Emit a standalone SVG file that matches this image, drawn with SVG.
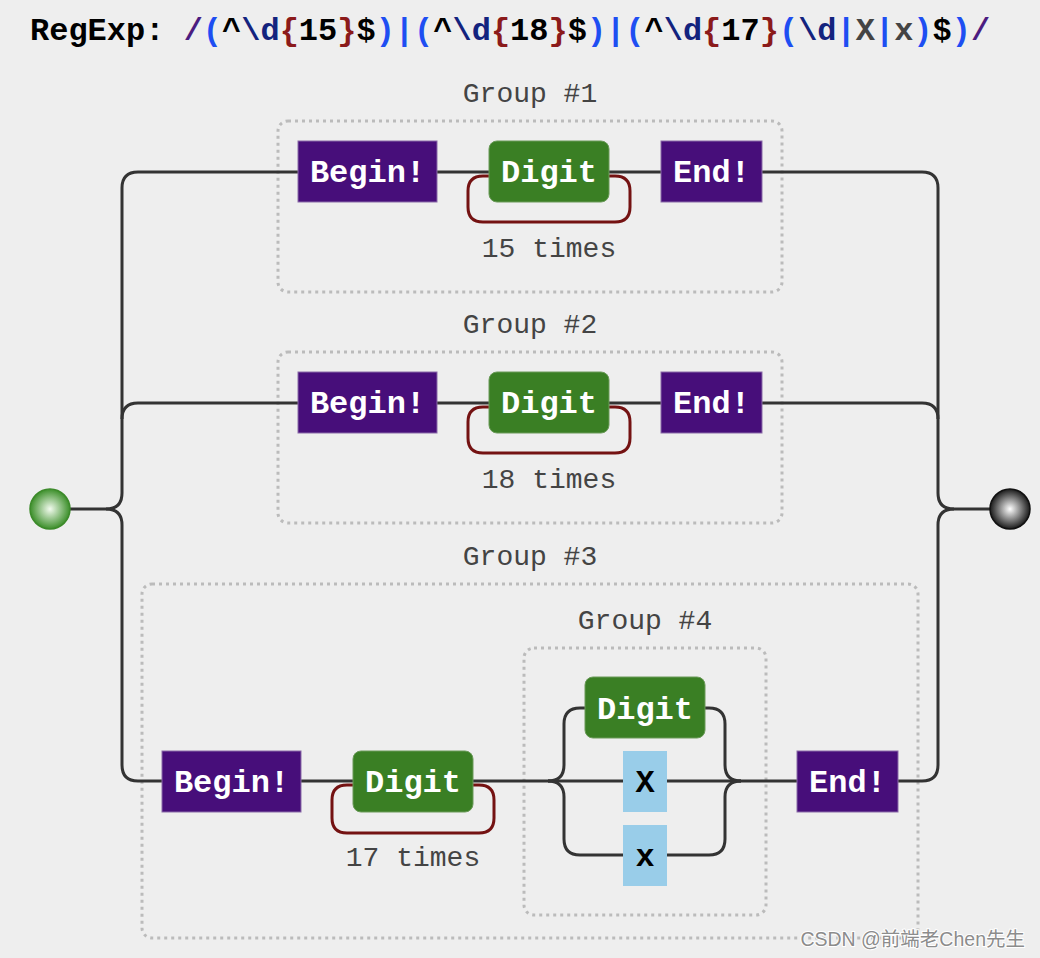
<svg xmlns="http://www.w3.org/2000/svg" width="1040" height="958" viewBox="0 0 1040 958">
<style>
.mono{font-family:"Liberation Mono","DejaVu Sans Mono",monospace}
.title{font-size:32px;font-weight:bold}
.lbl{font-size:28px;fill:#444;text-anchor:middle}
.ntext{font-size:32px;font-weight:bold;fill:#fff;text-anchor:middle}
.ltext{font-size:32px;font-weight:bold;fill:#000;text-anchor:middle}
.anchor{fill:#470e7a;stroke:#8a6aa8;stroke-width:1}
.esc{fill:#3a7f24;stroke:#6a9a58;stroke-width:1}
.lit{fill:#99cde9}
.grp{fill:none;stroke:#bbb;stroke-width:3;stroke-dasharray:3 4}
.conn path{fill:none;stroke:#333;stroke-width:3}
.conn path.loop{stroke:#741212}
.op{fill:#1e4ef2}.sl{fill:#4b1c80}.cl{fill:#13237e}.br{fill:#8b1a1a}.ch{fill:#444}
</style>
<defs>
<radialGradient id="gStart" cx="0.5" cy="0.5" r="0.5">
<stop offset="0" stop-color="#f2fbee"/>
<stop offset="1" stop-color="#3c8f2a"/>
</radialGradient>
<radialGradient id="gEnd" cx="0.5" cy="0.5" r="0.5">
<stop offset="0" stop-color="#ffffff"/>
<stop offset="1" stop-color="#1a1a1a"/>
</radialGradient>
</defs>
<rect width="1040" height="958" fill="#eeeeee"/>
<text class="mono title" x="30" y="40" xml:space="preserve"><tspan fill="#000">RegExp: </tspan><tspan class="sl">/</tspan><tspan class="op">(</tspan><tspan fill="#000">^</tspan><tspan class="cl">\d</tspan><tspan class="br">{</tspan><tspan fill="#000">15</tspan><tspan class="br">}</tspan><tspan fill="#000">$</tspan><tspan class="op">)|(</tspan><tspan fill="#000">^</tspan><tspan class="cl">\d</tspan><tspan class="br">{</tspan><tspan fill="#000">18</tspan><tspan class="br">}</tspan><tspan fill="#000">$</tspan><tspan class="op">)|(</tspan><tspan fill="#000">^</tspan><tspan class="cl">\d</tspan><tspan class="br">{</tspan><tspan fill="#000">17</tspan><tspan class="br">}</tspan><tspan class="op">(</tspan><tspan class="cl">\d</tspan><tspan class="op">|</tspan><tspan class="ch">X</tspan><tspan class="op">|</tspan><tspan class="ch">x</tspan><tspan class="op">)</tspan><tspan fill="#000">$</tspan><tspan class="op">)</tspan><tspan class="sl">/</tspan></text>

<g id="group1">
<rect class="grp" x="278" y="121" width="504" height="171" rx="10"/>
<text class="mono lbl" x="530" y="102">Group #1</text>
</g>
<g id="group2">
<rect class="grp" x="278" y="352" width="504" height="171" rx="10"/>
<text class="mono lbl" x="530" y="333">Group #2</text>
</g>
<g id="group3">
<rect class="grp" x="142" y="584" width="776" height="354" rx="10"/>
<text class="mono lbl" x="530" y="565">Group #3</text>
</g>
<g id="group4">
<rect class="grp" x="524" y="648" width="242" height="267" rx="10"/>
<text class="mono lbl" x="645" y="629">Group #4</text>
</g>

<g id="connectors" class="conn">
<path d="M70,509 H106"/>
<path d="M106,509 q16,0 16,-16 V188 q0,-16 16,-16 H298"/>
<path d="M122,419 q0,-16 16,-16 H298"/>
<path d="M106,509 q16,0 16,16 V765 q0,16 16,16 H162"/>
<path d="M437,172 H489 M609,172 H661"/>
<path d="M437,403 H489 M609,403 H661"/>
<path d="M762,172 H922 q16,0 16,16 V493 q0,16 16,16 H990"/>
<path d="M762,403 H922 q16,0 16,16"/>
<path d="M898,781 H922 q16,0 16,-16 V525 q0,-16 16,-16"/>
<path d="M301,781 H353 M473,781 H623 M667,781 H797"/>
<path d="M548,781 q16,0 16,-16 V724 q0,-16 16,-16 H585"/>
<path d="M548,781 q16,0 16,16 V839 q0,16 16,16 H623"/>
<path d="M705,708 H709 q16,0 16,16 V765 q0,16 16,16"/>
<path d="M667,855 H709 q16,0 16,-16 V797 q0,-16 16,-16"/>
<path class="loop" d="M609,176 H615 q15,0 15,15 V207 q0,15 -15,15 H483 q-15,0 -15,-15 V191 q0,-15 15,-15 H489"/>
<path class="loop" d="M609,407 H615 q15,0 15,15 V438 q0,15 -15,15 H483 q-15,0 -15,-15 V422 q0,-15 15,-15 H489"/>
<path class="loop" d="M473,785 H479 q15,0 15,15 V818 q0,15 -15,15 H347 q-15,0 -15,-15 V800 q0,-15 15,-15 H353"/>
</g>

<g id="start"><circle cx="50" cy="509" r="20" fill="url(#gStart)" stroke="#3c8a2a" stroke-width="1.5"/></g>
<g id="end"><circle cx="1010" cy="509" r="20" fill="url(#gEnd)" stroke="#111" stroke-width="1.5"/></g>

<g id="g1-begin"><rect class="anchor" x="298" y="141" width="139" height="61"/><text class="mono ntext" x="367.5" y="182">Begin!</text></g>
<g id="g1-digit"><rect class="esc" x="489" y="141" width="120" height="61" rx="8"/><text class="mono ntext" x="549" y="182">Digit</text></g>
<text class="mono lbl" x="549" y="257">15 times</text>
<g id="g1-end"><rect class="anchor" x="661" y="141" width="101" height="61"/><text class="mono ntext" x="711.5" y="182">End!</text></g>

<g id="g2-begin"><rect class="anchor" x="298" y="372" width="139" height="61"/><text class="mono ntext" x="367.5" y="413">Begin!</text></g>
<g id="g2-digit"><rect class="esc" x="489" y="372" width="120" height="61" rx="8"/><text class="mono ntext" x="549" y="413">Digit</text></g>
<text class="mono lbl" x="549" y="488">18 times</text>
<g id="g2-end"><rect class="anchor" x="661" y="372" width="101" height="61"/><text class="mono ntext" x="711.5" y="413">End!</text></g>

<g id="g3-begin"><rect class="anchor" x="162" y="751" width="139" height="61"/><text class="mono ntext" x="231.5" y="792">Begin!</text></g>
<g id="g3-digit"><rect class="esc" x="353" y="751" width="120" height="61" rx="8"/><text class="mono ntext" x="413" y="792">Digit</text></g>
<text class="mono lbl" x="413" y="866">17 times</text>
<g id="g4-digit"><rect class="esc" x="585" y="677" width="120" height="61" rx="8"/><text class="mono ntext" x="645" y="719">Digit</text></g>
<g id="g4-X"><rect class="lit" x="623" y="751" width="44" height="61"/><text class="mono ltext" x="645" y="792">X</text></g>
<g id="g4-x"><rect class="lit" x="623" y="825" width="44" height="61"/><text class="mono ltext" x="645" y="866">x</text></g>
<g id="g3-end"><rect class="anchor" x="797" y="751" width="101" height="61"/><text class="mono ntext" x="847.5" y="792">End!</text></g>

<text x="1025" y="946" text-anchor="end" font-family="'Liberation Sans','Noto Sans CJK SC',sans-serif" font-size="19.5" fill="#8c8c8c" stroke="#fff" stroke-width="2" paint-order="stroke">CSDN @前端老Chen先生</text>
</svg>
